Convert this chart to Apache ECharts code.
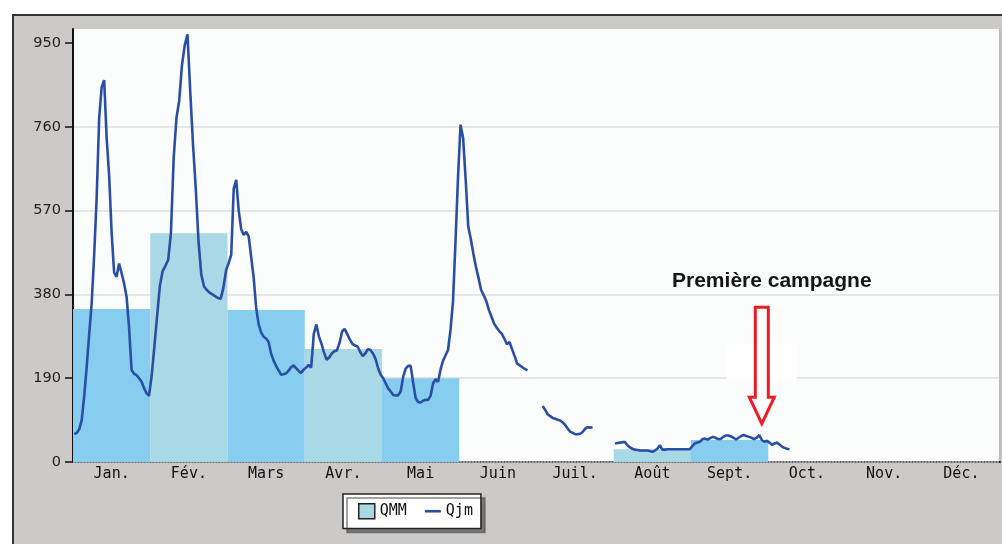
<!DOCTYPE html>
<html>
<head>
<meta charset="utf-8">
<script src="https://cdn.jsdelivr.net/npm/echarts@6/dist/echarts.min.js"></script>
<style>
  html, body { margin: 0; padding: 0; background: #ffffff; }
  #wrap { position: relative; width: 1002px; height: 544px; overflow: hidden; }
  #frame { position: absolute; left: 12px; top: 14px; width: 990px; height: 530px;
           background: #ccc9c9; border-top: 2px solid #333; border-left: 2px solid #333; }
  #chart { position: absolute; left: 0; top: 0; width: 1002px; height: 544px; }
</style>
</head>
<body>
<div id="wrap">
  <div id="frame"></div>
  <div id="chart"></div>
</div>
<script>
// Month labels and lengths
const months = ['Jan.', 'Fév.', 'Mars', 'Avr.', 'Mai', 'Juin', 'Juil.', 'Août', 'Sept.', 'Oct.', 'Nov.', 'Déc.'];
const daysInMonth = [31, 28, 31, 30, 31, 30, 31, 31, 30, 31, 30, 31];
const yTicks = [0, 190, 380, 570, 760, 950];

// Monthly mean discharge (QMM)
const qmm = [347, 519, 345, 256, 190, null, null, 29, 50, null, null, null];

// Daily mean discharge (Qjm), one value per day, null = no measurement
const qjmJan = [63, 66, 74, 95, 150, 216, 290, 360, 470, 600, 780, 850, 866, 735, 650, 520, 430, 420, 450, 428, 405, 375, 305, 209, 200, 197, 190, 182, 168, 156, 150];
const qjmFev = [195, 262, 332, 400, 433, 445, 458, 520, 690, 780, 820, 900, 945, 970, 840, 720, 620, 500, 425, 398, 390, 384, 380, 376, 372, 370, 395, 435];
const qjmMars = [452, 470, 620, 640, 570, 528, 515, 522, 512, 465, 418, 350, 312, 294, 284, 280, 272, 246, 230, 218, 208, 198, 199, 201, 207, 215, 219, 213, 207, 202, 209];
const qjmAvr = [214, 220, 214, 290, 312, 285, 268, 248, 232, 237, 246, 251, 253, 270, 296, 302, 290, 278, 268, 264, 262, 250, 240, 246, 256, 254, 246, 234, 212, 198];
const qjmMai = [190, 178, 167, 160, 152, 151, 151, 160, 193, 212, 218, 218, 180, 145, 136, 135, 139, 141, 141, 150, 178, 188, 182, 210, 230, 242, 254, 300, 365, 500, 645];
const qjmJuin = [765, 735, 640, 534, 505, 472, 442, 417, 390, 378, 365, 345, 330, 314, 305, 297, 291, 280, 267, 272, 256, 240, 223, 219, 215, 211, 208, null, null, null];
const qjmJuil = [null, null, 127, 118, 108, 104, 100, 98, 96, 94, 90, 84, 76, 69, 66, 63, 63, 64, 68, 75, 79, 78, 79, null, null, null, null, null, null, null, null];
const qjmAout = [42, 43, 44, 45, 45, 38, 33, 30, 28, 27, 26, 26, 26, 26, 25, 23, 26, 30, 38, 28, 28, 29, 29, 29, 29, 29, 29, 29, 29, 29, 29];
const qjmSept = [36, 42, 44, 46, 52, 53, 51, 54, 57, 55, 52, 52, 57, 60, 60, 58, 55, 51, 55, 59, 61, 59, 57, 55, 52, 55, 61, 50, 46, 48];
const qjmOct = [44, 39, 42, 44, 40, 35, 32, 30, 29];
const qjmNov = [];
const qjmDec = [];

// Annotated day: first sampling campaign (month index, day, discharge at arrow tip)
const campagne = { label: 'Première campagne', month: 8, day: 28, q: 80 };

const SKY = '#87cdf0';
const LIGHT = '#a9d9e6';
const LINE = '#2a4ea6';

const qjmByMonth = [qjmJan, qjmFev, qjmMars, qjmAvr, qjmMai, qjmJuin, qjmJuil, qjmAout, qjmSept, qjmOct, qjmNov, qjmDec];
const dayPos = (m, d) => m + (d - 0.5) / daysInMonth[m];
const qjmData = [];
qjmByMonth.forEach((arr, m) => {
  arr.forEach((v, i) => qjmData.push([dayPos(m, i + 1), v == null ? '-' : v]));
});

// Legend glyph for the daily series: a short horizontal stroke centred in a 16x15 box
const lineGlyph = 'path://M0,0 L0,0 M0,6.2 L16,6.2 L16,8.8 L0,8.8 Z M16,15 L16,15';

const chart = echarts.init(document.getElementById('chart'), null, { renderer: 'canvas' });
chart.setOption({
  animation: false,
  backgroundColor: 'transparent',
  grid: { left: 73, top: 29, right: 2, bottom: 82, show: true, backgroundColor: '#fbfdfd', borderWidth: 0 },
  legend: {
    left: 343, top: 494, orient: 'horizontal',
    padding: [9, 8, 9, 15], itemWidth: 16, itemHeight: 15, itemGap: 18,
    backgroundColor: '#ffffff', borderColor: '#222', borderWidth: 1.5,
    shadowColor: 'rgba(90,90,90,0.75)', shadowOffsetX: 4, shadowOffsetY: 4, shadowBlur: 0,
    textStyle: { fontFamily: 'DejaVu Sans Mono', fontSize: 15, color: '#111' },
    data: [
      { name: 'QMM', icon: 'rect', itemStyle: { color: LIGHT, borderColor: '#222', borderWidth: 1.5 } },
      { name: 'Qjm', icon: lineGlyph, itemStyle: { color: LINE, borderWidth: 0 } }
    ]
  },
  xAxis: [
    {
      type: 'category', data: months, position: 'bottom', boundaryGap: true,
      axisLine: { lineStyle: { color: '#111', width: 2 } },
      axisTick: { inside: true, length: 9, interval: 0, lineStyle: { color: '#111', width: 1.5 } },
      axisLabel: { interval: 0, color: '#111', fontFamily: 'DejaVu Sans Mono', fontSize: 15, margin: 5 },
      splitLine: { show: false }
    },
    {
      type: 'value', min: 0, max: 12, position: 'top',
      axisLine: { show: true, lineStyle: { color: '#c8c8c8', type: 'dotted', width: 1.5 } },
      axisTick: { show: false }, axisLabel: { show: false }, splitLine: { show: false }
    }
  ],
  yAxis: [
    {
      type: 'value', min: 0, max: 982, interval: 190,
      axisLine: { show: true, lineStyle: { color: '#111', width: 2 } },
      axisTick: { show: true, length: 8, customValues: yTicks, lineStyle: { color: '#111', width: 1.5 } },
      axisLabel: {
        color: '#222', fontFamily: 'DejaVu Sans', fontSize: 14.5, margin: 12,
        customValues: yTicks
      },
      splitLine: { show: true, showMaxLine: false, lineStyle: { color: '#dedede', width: 1.5 } }
    },
    {
      type: 'value', min: 0, max: 982, position: 'right',
      axisLine: { show: true, lineStyle: { color: '#bdbdbd', width: 2 } },
      axisTick: { show: false }, axisLabel: { show: false }, splitLine: { show: false }
    }
  ],
  series: [
    {
      name: 'QMM', type: 'bar', xAxisIndex: 0, yAxisIndex: 0,
      barCategoryGap: '0%', z: 1,
      itemStyle: { color: LIGHT },
      data: qmm.map((v, i) => ({ value: v == null ? '-' : v, itemStyle: { color: i % 2 === 0 ? SKY : LIGHT } }))
    },
    {
      name: 'Qjm', type: 'line', xAxisIndex: 1, yAxisIndex: 0,
      symbol: 'none', connectNulls: false, z: 3,
      lineStyle: { color: LINE, width: 2.6 }, itemStyle: { color: LINE },
      data: qjmData
    }
  ]
});

// Hollow red arrow and caption pointing at the campaign day
const tip = chart.convertToPixel({ xAxisIndex: 1, yAxisIndex: 0 }, [dayPos(campagne.month, campagne.day), campagne.q]);
const tx = tip[0], ty = tip[1];
chart.setOption({
  graphic: [
    {
      type: 'rect', z: 50,
      shape: { x: tx - 35, y: ty - 82, width: 70, height: 36 },
      style: { fill: '#ffffff' }
    },
    {
      type: 'polygon', z: 51,
      shape: { points: [
        [tx - 6.5, ty - 119.5], [tx + 6.5, ty - 119.5], [tx + 6.5, ty - 29.5], [tx + 12.5, ty - 29.5],
        [tx, ty - 3], [tx - 12.5, ty - 29.5], [tx - 6.5, ty - 29.5]
      ] },
      style: { fill: '#ffffff', stroke: '#ec1c24', lineWidth: 3, lineJoin: 'miter' }
    },
    {
      type: 'text', z: 52,
      style: {
        text: campagne.label, x: tx + 10, y: ty - 146,
        align: 'center', verticalAlign: 'middle',
        font: 'bold 21px "Liberation Sans", Arial, sans-serif', fill: '#151515'
      }
    }
  ]
});
</script>
</body>
</html>
